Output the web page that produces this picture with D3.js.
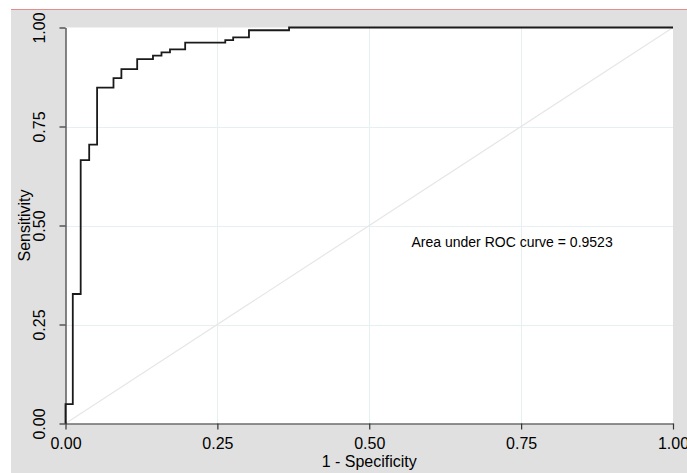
<!DOCTYPE html>
<meta charset="utf-8">
<style>
  body {
    margin: 0;
    background-color: #fff;
  }
  text {
    font-family: "Liberation Sans", Arial, sans-serif;
    fill: #000;
  }
</style>
<body>
<script src="https://d3js.org/d3.v7.min.js"></script>
<div id="chart"></div>
<script>

// ROC curve vertices (1 - specificity, sensitivity), drawn as steps
var fpr = [0, 0.012, 0.025, 0.039, 0.052, 0.079, 0.092, 0.118, 0.144, 0.158, 0.172, 0.197, 0.263, 0.276, 0.302, 0.368, 1];
var tpr = [0, 0.049, 0.327, 0.665, 0.704, 0.848, 0.872, 0.895, 0.920, 0.929, 0.937, 0.945, 0.962, 0.968, 0.975, 0.993, 1];

var ticks = [0, 0.25, 0.5, 0.75, 1];
var tickLabels = ["0.00", "0.25", "0.50", "0.75", "1.00"];
var aucText = "Area under ROC curve = 0.9523";

var width = 687,
    height = 473;

var x = d3.scaleLinear().domain([0, 1]).range([65.5, 673]);
var y = d3.scaleLinear().domain([0, 1]).range([423.5, 27.5]);

var svg = d3.select("#chart")
    .append("svg")
    .attr("width", width)
    .attr("height", height);

// outer gray region + the thin red line on top
svg.append("rect")
    .attr("x", 11).attr("y", 10)
    .attr("width", width - 11).attr("height", height - 10)
    .style("fill", "#e0e0e0");

svg.append("line")
    .attr("x1", 11).attr("x2", width)
    .attr("y1", 9.5).attr("y2", 9.5)
    .style("stroke", "#e58b8b")
    .style("stroke-width", 1);

// plot region
svg.append("rect")
    .attr("x", x(0)).attr("y", y(1))
    .attr("width", x(1) - x(0)).attr("height", y(0) - y(1))
    .style("fill", "#fff");

// grid
var grid = svg.append("g").attr("class", "grid");
grid.selectAll(".gx")
    .data(ticks.slice(1, 4))
    .enter().append("line")
    .attr("x1", function(d) { return Math.round(x(d)) + 0.5; })
    .attr("x2", function(d) { return Math.round(x(d)) + 0.5; })
    .attr("y1", y(0)).attr("y2", y(1))
    .style("stroke", "#e6eff1");
grid.selectAll(".gy")
    .data(ticks.slice(1, 4))
    .enter().append("line")
    .attr("y1", function(d) { return Math.round(y(d)) + 0.5; })
    .attr("y2", function(d) { return Math.round(y(d)) + 0.5; })
    .attr("x1", x(0)).attr("x2", x(1))
    .style("stroke", "#e6eff1");

// reference diagonal
svg.append("line")
    .attr("x1", x(0)).attr("y1", y(0))
    .attr("x2", x(1)).attr("y2", y(1))
    .style("stroke", "#e6e6e6")
    .style("stroke-width", 1.2);

// axes
var xAxis = d3.axisBottom(x)
    .tickValues(ticks)
    .tickFormat(function(d, i) { return tickLabels[i]; })
    .tickSize(6)
    .tickPadding(8)
    .tickSizeOuter(0);

var yAxis = d3.axisLeft(y)
    .tickValues(ticks)
    .tickFormat(function(d, i) { return tickLabels[i]; })
    .tickSize(6)
    .tickSizeOuter(0);

var gx = svg.append("g")
    .attr("transform", "translate(0," + y(0) + ")")
    .call(xAxis);
gx.selectAll("text").style("font-size", "16px").style("font-family", "'Liberation Sans', Arial, sans-serif");

var gy = svg.append("g")
    .attr("transform", "translate(" + x(0) + ",0)")
    .call(yAxis);
gy.selectAll("text")
    .style("font-size", "16px")
    .style("font-family", "'Liberation Sans', Arial, sans-serif")
    .attr("text-anchor", "middle")
    .attr("dy", 0)
    .attr("x", 0)
    .attr("transform", "translate(-21,0) rotate(-90)");

svg.selectAll(".domain, .tick line")
    .style("stroke", "#333")
    .style("stroke-width", 1.2);

// curve
var line = d3.line()
    .x(function(d) { return x(d[0]); })
    .y(function(d) { return y(d[1]); })
    .curve(d3.curveStepBefore);

svg.append("path")
    .datum(fpr.map(function(d, i) { return [d, tpr[i]]; }))
    .attr("d", line)
    .style("fill", "none")
    .style("stroke", "#1a1a1a")
    .style("stroke-width", 1.8);

// labels
svg.append("text")
    .attr("x", 411.5)
    .attr("y", 247)
    .style("font-size", "14px")
    .text(aucText);

svg.append("text")
    .attr("x", (x(0) + x(1)) / 2)
    .attr("y", 467)
    .attr("text-anchor", "middle")
    .style("font-size", "16px")
    .text("1 - Specificity");

svg.append("text")
    .attr("transform", "translate(30," + (y(0) + y(1)) / 2 + ") rotate(-90)")
    .attr("text-anchor", "middle")
    .style("font-size", "16px")
    .text("Sensitivity");

</script>
</body>
